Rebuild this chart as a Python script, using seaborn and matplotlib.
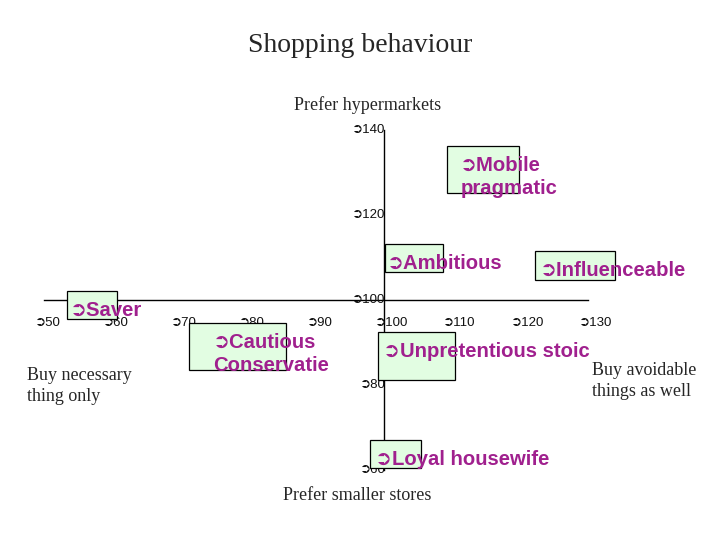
import matplotlib.pyplot as plt
import matplotlib.patches as mpatches
import seaborn as sns

# Segment boxes (data coordinates)
segments = ["Mobile\npragmatic", "Ambitious", "Influenceable", "Saver",
            "Cautious\nConservatie", "Unpretentious stoic", "Loyal housewife"]
box_left = [109.3, 100.1, 122.2, 53.4, 71.3, 99.1, 97.9]
box_right = [119.9, 108.7, 134.0, 60.7, 85.6, 110.4, 105.4]
box_bottom = [125.2, 106.6, 104.7, 95.5, 83.5, 81.2, 60.5]
box_top = [136.2, 113.2, 111.5, 102.1, 94.6, 92.5, 67.1]

x_ticks = [50, 60, 70, 80, 90, 100, 110, 120, 130]
y_ticks = [60, 80, 100, 120, 140]

arrow = "\u27b2"
purple = "#a0208e"
mint = "#e2fde2"

sns.set_style("white")
plt.rcParams["font.family"] = ["Liberation Sans", "DejaVu Sans"]

fig = plt.figure(figsize=(7.2, 5.4), dpi=100)
ax = fig.add_axes([0, 0, 1, 1])
ax.set_xlim(43.53, 149.41)
ax.set_ylim(43.53, 170.59)

# crosshair axes through (100, 100)
ax.spines["top"].set_visible(False)
ax.spines["right"].set_visible(False)
ax.spines["bottom"].set_position(("data", 100))
ax.spines["left"].set_position(("data", 100))
ax.spines["bottom"].set_bounds(min(x_ticks), max(x_ticks))
ax.spines["left"].set_bounds(min(y_ticks), max(y_ticks))
for s in ["bottom", "left"]:
    ax.spines[s].set_color("black")
    ax.spines[s].set_linewidth(1.0)
    ax.spines[s].set_zorder(1)

ax.set_xticks(x_ticks)
ax.set_xticklabels([])
ax.set_yticks([])
ax.tick_params(axis="x", direction="out", length=3.6, width=0.8, color="black")

for t in x_ticks:
    ax.annotate(arrow + str(t), xy=(t, 100), xytext=(-6.5, -16.5),
                textcoords="offset points", ha="left", va="center",
                fontsize=9.5, color="#111111")
for t in y_ticks:
    ax.annotate(arrow + str(t), xy=(100, t), xytext=(1, 0),
                textcoords="offset points", ha="right", va="center",
                fontsize=9.5, color="#111111")

# label offsets (points) from the top-left corner of each box
label_dx = [9.4, 1.5, 3.6, 2.2, 17.3, 3.6, 3.6]

for name, x0, x1, y0, y1, dx in zip(segments, box_left, box_right,
                                      box_bottom, box_top, label_dx):
    ax.add_patch(mpatches.Rectangle((x0, y0), x1 - x0, y1 - y0,
                                    facecolor=mint, edgecolor="black",
                                    linewidth=0.9, zorder=3))
    ax.annotate(arrow + name, xy=(x0, y1), xytext=(dx, -7.2),
                textcoords="offset points", ha="left", va="top",
                fontsize=14.6, fontweight="bold", color=purple,
                linespacing=1.25, zorder=4)

serif = "Liberation Serif"
fig.text(0.5, 1 - 46 / 540, "Shopping behaviour", ha="center", va="center",
         fontsize=20, family=serif)
fig.text(368 / 720, 1 - 105 / 540, "Prefer hypermarkets", ha="center",
         va="center", fontsize=13, family=serif)
fig.text(357 / 720, 1 - 495 / 540, "Prefer smaller stores", ha="center",
         va="center", fontsize=13, family=serif)
fig.text(27 / 720, 1 - 386 / 540, "Buy necessary\nthing only", ha="left",
         va="center", fontsize=13, family=serif, linespacing=1.3)
fig.text(592 / 720, 1 - 381 / 540, "Buy avoidable\nthings as well", ha="left",
         va="center", fontsize=13, family=serif, linespacing=1.25)

fig.savefig("out.png", dpi=100)
